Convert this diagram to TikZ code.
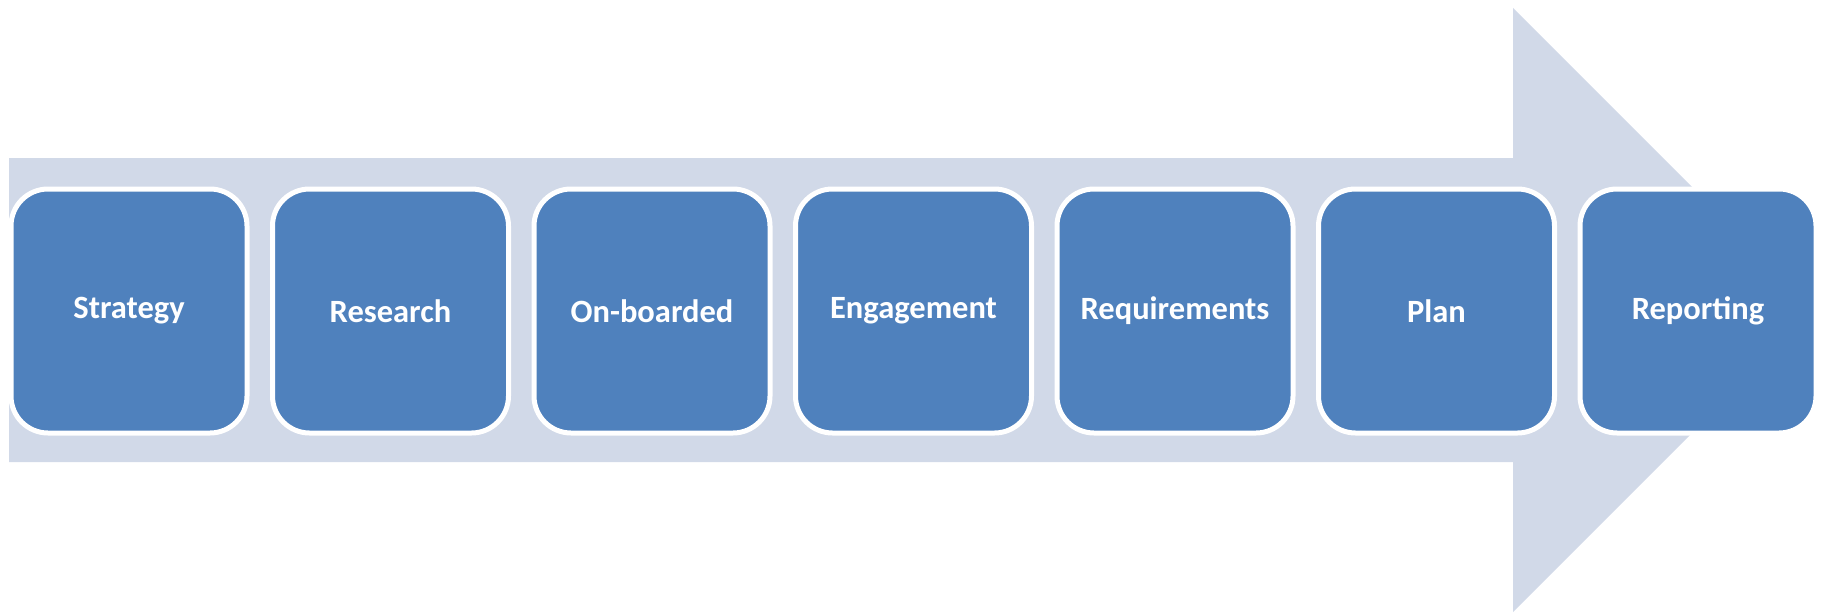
\documentclass[tikz,border=0pt]{standalone}
\usepackage{fontspec}
\setmainfont{Carlito}
\definecolor{stepblue}{HTML}{4F81BD}
\definecolor{arrowgray}{HTML}{D1D9E8}
\tikzset{
  stepbox/.style={draw=white, line width=5pt, fill=stepblue, rounded corners=37pt,
    minimum width=236pt, minimum height=244pt, inner sep=0pt, text=white,
    font=\fontsize{32.5}{38}\selectfont\bfseries}
}
\begin{document}
\begin{tikzpicture}[x=1pt,y=-1pt]
\useasboundingbox (0,0) rectangle (1822,615);
\fill[arrowgray] (9,158) -- (1513,158) -- (1513,8) -- (1815,310) -- (1513,612) -- (1513,462) -- (9,462) -- cycle;
\node[stepbox] (s1) at (129,311) {Strategy};
\node[stepbox] (s2) at (390.5,311) {Research};
\node[stepbox] (s3) at (652,311) {On-boarded};
\node[stepbox] (s4) at (913.5,311) {Engagement};
\node[stepbox] (s5) at (1175,311) {Requirements};
\node[stepbox] (s6) at (1436.5,311) {Plan};
\node[stepbox] (s7) at (1698,311) {Reporting};
\end{tikzpicture}
\end{document}
